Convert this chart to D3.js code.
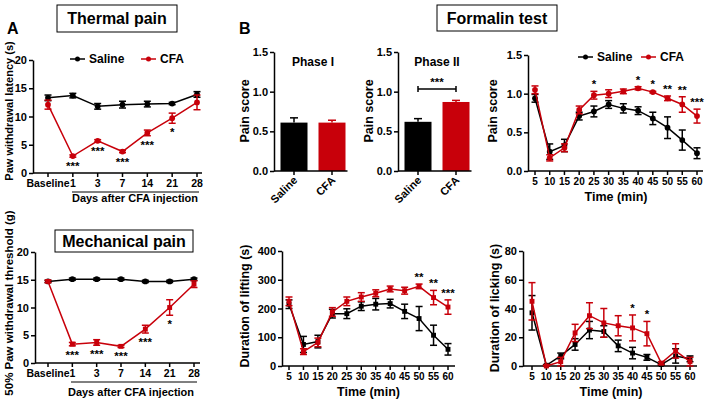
<!DOCTYPE html>
<html><head><meta charset="utf-8">
<script src="https://cdn.jsdelivr.net/npm/d3@7"></script>
<style>body{margin:0;background:#fff}svg text{font-family:"Liberation Sans",Arial,sans-serif;font-weight:bold}</style>
</head><body><svg id="c" width="708" height="402"></svg>
<script>
const RED = "#c8000a", BLACK = "#000";
// Panel A data
const dayCats = ["Baseline","1","3","7","14","21","28"];
const thermalSaline = [13.3,13.7,11.8,12.1,12.2,12.3,13.9];
const thermalSalineErr = [0.5,0.4,0.5,0.6,0.5,0.2,0.5];
const thermalCFA = [12.1,3.0,5.7,3.8,7.1,9.7,12.5];
const thermalCFAErr = [0.8,0.2,0.2,0.2,0.5,0.9,1.3];
const thermalStars = ["","***","***","***","***","*",""];
const mechSaline = [14.7,15.1,15.1,15.1,14.7,14.7,15.1];
const mechSalineErr = [0.2,0.2,0.2,0.2,0.2,0.2,0.2];
const mechCFA = [14.7,3.4,3.7,3.0,6.1,10.0,14.2];
const mechCFAErr = [0.2,0.3,0.5,0.2,0.7,1.4,0.6];
const mechStars = ["","***","***","***","***","*",""];
const yTicksA = [0,5,10,15,20];
// Panel B bars
const barCats = ["Saline","CFA"];
const phase1 = [0.61,0.61], phase1Err = [0.06,0.03];
const phase2 = [0.62,0.87], phase2Err = [0.04,0.02];
const yTicksScore = [0.0,0.5,1.0,1.5];
// Time course
const times = [5,10,15,20,25,30,35,40,45,50,55,60];
const scoreSaline = [0.94,0.25,0.33,0.71,0.77,0.86,0.81,0.78,0.68,0.56,0.40,0.23];
const scoreSalineErr = [0.05,0.10,0.08,0.05,0.07,0.05,0.06,0.05,0.08,0.14,0.13,0.07];
const scoreCFA = [1.05,0.17,0.30,0.79,0.98,1.00,1.03,1.07,1.02,0.94,0.86,0.71];
const scoreCFAErr = [0.05,0.04,0.05,0.05,0.05,0.05,0.03,0.02,0.01,0.03,0.10,0.09];
const scoreStars = ["","","","","*","","","*","*","**","**","***"];
const liftSaline = [215,75,85,182,182,208,215,217,190,165,107,58];
const liftSalineErr = [15,28,22,15,17,15,20,15,25,42,35,20];
const liftCFA = [225,50,82,188,225,240,253,268,262,277,238,205];
const liftCFAErr = [15,10,15,15,15,15,12,10,12,8,25,25];
const liftStars = ["","","","","","","","","","**","**","***"];
const yTicksLift = [0,100,200,300,400];
const lickSaline = [37,0.5,7,15,25,24,14,9,6,1,7,5];
const lickSalineErr = [12,0.5,2,4,6,4,4,4,2,0.5,5,2];
const lickCFA = [45,0,3,23,35,30,28,26.5,22.5,2,10.5,3];
const lickCFAErr = [13,0.5,3,6,9,10,7,9,8.5,1,5,3];
const lickStars = ["","","","","","","","*","*","","",""];
const yTicksLick = [0,20,40,60,80];

const svg = d3.select("#c");

function yAxis(y, x0, ticks, fmt) {
  const ax = d3.axisLeft(y).tickValues(ticks).tickSize(4).tickSizeOuter(0).tickFormat(fmt);
  const a = svg.append("g").attr("transform", `translate(${x0},0)`).call(ax);
  a.select(".domain").attr("stroke-width",1.5);
  a.selectAll(".tick line").attr("stroke-width",1.5);
  a.selectAll("text").attr("font-size",11).attr("dx",1);
  return a;
}
function xAxisLine(x0, x1, y0) {
  svg.append("line").attr("x1",x0).attr("x2",x1).attr("y1",y0).attr("y2",y0).attr("stroke","#000").attr("stroke-width",1.5);
}
function xTicks(xs, labels, y0, fs) {
  xs.forEach((x,i)=>{
    svg.append("line").attr("x1",x).attr("x2",x).attr("y1",y0).attr("y2",y0+4).attr("stroke","#000").attr("stroke-width",1.5);
    svg.append("text").attr("x",x).attr("y",y0+13.5).attr("text-anchor","middle").attr("font-size",fs).text(labels[i]);
  });
}
function series(xs, vals, errs, y, color, shape) {
  const line = d3.line().x((d,i)=>xs[i]).y(d=>y(d));
  svg.append("path").datum(vals).attr("d",line).attr("fill","none").attr("stroke",color).attr("stroke-width",1.5);
  vals.forEach((v,i)=>{
    const x = xs[i], yt = y(v+errs[i]), yb = y(Math.max(0,v-errs[i]));
    svg.append("line").attr("x1",x).attr("x2",x).attr("y1",yt).attr("y2",yb).attr("stroke",color).attr("stroke-width",1.5);
    [yt,yb].forEach(yy=>svg.append("line").attr("x1",x-3.5).attr("x2",x+3.5).attr("y1",yy).attr("y2",yy).attr("stroke",color).attr("stroke-width",1.5));
    const sym = d3.symbol().type(shape==="square"?d3.symbolSquare:d3.symbolCircle).size(shape==="square"?24:26);
    svg.append("path").attr("d",sym()).attr("transform",`translate(${x},${y(v)})`).attr("fill",color);
  });
}
function stars(xs, labels, vals, errs, y, below) {
  labels.forEach((s,i)=>{
    if(!s) return;
    const yy = below ? y(vals[i]-errs[i]) + 13 : y(vals[i]+errs[i]) - 3;
    svg.append("text").attr("x",xs[i]).attr("y",yy).attr("text-anchor","middle").attr("font-size",11.5).attr("font-weight","normal").text(s);
  });
}
function rotLabel(x, y, txt, fs) {
  svg.append("text").attr("transform",`translate(${x},${y}) rotate(-90)`).attr("text-anchor","middle").attr("font-size",fs).text(txt);
}
function boxTitle(x0,y0,x1,y1,txt,fs){
  svg.append("rect").attr("x",x0).attr("y",y0).attr("width",x1-x0).attr("height",y1-y0).attr("fill","#fff").attr("stroke","#000").attr("stroke-width",1);
  svg.append("text").attr("x",(x0+x1)/2).attr("y",(y0+y1)/2+5.5).attr("text-anchor","middle").attr("font-size",fs).text(txt);
}
function legend(x, y, color, txt){
  svg.append("line").attr("x1",x).attr("x2",x+15).attr("y1",y).attr("y2",y).attr("stroke",color).attr("stroke-width",1.5);
  svg.append("circle").attr("cx",x+7.5).attr("cy",y).attr("r",2.5).attr("fill",color);
  svg.append("text").attr("x",x+19).attr("y",y+4).attr("font-size",12).text(txt);
}

// ===== Panel A thermal =====
svg.append("text").attr("x",7).attr("y",34).attr("font-size",16).text("A");
boxTitle(57,5,177,32,"Thermal pain",16);
{
  const x = d3.scalePoint().domain(dayCats).range([48,197]);
  const y = d3.scaleLinear().domain([0,20]).range([173,60]);
  const xs = dayCats.map(d=>x(d));
  yAxis(y,33,yTicksA,d3.format("d"));
  xAxisLine(33,202,173);
  xTicks(xs,dayCats,173,10.5);
  series(xs,thermalSaline,thermalSalineErr,y,BLACK,"circle");
  series(xs,thermalCFA,thermalCFAErr,y,RED,"circle");
  stars(xs,thermalStars,thermalCFA,thermalCFAErr,y,true);
  legend(70,59,BLACK,"Saline");
  legend(141,59,RED,"CFA");
  rotLabel(13,111,"Paw withdrawal latency (s)",11);
  svg.append("line").attr("x1",72).attr("x2",199).attr("y1",192).attr("y2",192).attr("stroke","#000").attr("stroke-width",1);
  svg.append("text").attr("x",135).attr("y",202).attr("text-anchor","middle").attr("font-size",11).text("Days after CFA injection");
}
// ===== Panel A mechanical =====
{
  const x = d3.scalePoint().domain(dayCats).range([48,194]);
  const y = d3.scaleLinear().domain([0,20]).range([363,252]);
  const xs = dayCats.map(d=>x(d));
  yAxis(y,35,yTicksA,d3.format("d"));
  xAxisLine(35,200,363);
  xTicks(xs,dayCats,363,10.5);
  series(xs,mechSaline,mechSalineErr,y,BLACK,"circle");
  series(xs,mechCFA,mechCFAErr,y,RED,"square");
  stars(xs,mechStars,mechCFA,mechCFAErr,y,true);
  boxTitle(55,230,193,252,"Mechanical pain",16);
  rotLabel(13,303,"50% Paw withdrawal threshold (g)",11.5);
  svg.append("line").attr("x1",71).attr("x2",197).attr("y1",382).attr("y2",382).attr("stroke","#000").attr("stroke-width",1);
  svg.append("text").attr("x",131).attr("y",396).attr("text-anchor","middle").attr("font-size",11).text("Days after CFA injection");
}
// ===== Panel B =====
svg.append("text").attr("x",239).attr("y",34).attr("font-size",16).text("B");
boxTitle(437,5,557,31,"Formalin test",16);
function barChart(ax0, centers, vals, errs, title, bracket){
  const y = d3.scaleLinear().domain([0,1.5]).range([171,52]);
  yAxis(y,ax0,yTicksScore,d3.format(".1f"));
  const bw = 27;
  vals.forEach((v,i)=>{
    const c = centers[i], col = i===0?BLACK:RED;
    svg.append("line").attr("x1",c).attr("x2",c).attr("y1",y(v)).attr("y2",y(v+errs[i])).attr("stroke",col).attr("stroke-width",1.5);
    svg.append("line").attr("x1",c-4).attr("x2",c+4).attr("y1",y(v+errs[i])).attr("y2",y(v+errs[i])).attr("stroke",col).attr("stroke-width",1.5);
    svg.append("rect").attr("x",c-bw/2).attr("y",y(v)).attr("width",bw).attr("height",y(0)-y(v)).attr("fill",col);
    svg.append("line").attr("x1",c).attr("x2",c).attr("y1",171).attr("y2",175).attr("stroke","#000").attr("stroke-width",1.5);
    svg.append("text").attr("transform",`translate(${c+4},${181}) rotate(-45)`).attr("text-anchor","end").attr("font-size",11).text(barCats[i]);
  });
  xAxisLine(ax0, centers[1]+bw/2+2, 171);
  svg.append("text").attr("x",(centers[0]+centers[1])/2).attr("y",66).attr("text-anchor","middle").attr("font-size",12).text(title);
  rotLabel(ax0-25,111,"Pain score",12.5);
  if(bracket){
    const yb = 89;
    svg.append("line").attr("x1",centers[0]).attr("x2",centers[1]).attr("y1",yb).attr("y2",yb).attr("stroke","#000").attr("stroke-width",1.5);
    centers.forEach(c=>svg.append("line").attr("x1",c).attr("x2",c).attr("y1",yb-3).attr("y2",yb+3).attr("stroke","#000").attr("stroke-width",1.5));
    svg.append("text").attr("x",(centers[0]+centers[1])/2).attr("y",yb-3).attr("text-anchor","middle").attr("font-size",11.5).attr("font-weight","normal").text("***");
  }
}
barChart(274,[294,332],phase1,phase1Err,"Phase I",false);
barChart(398,[418,456],phase2,phase2Err,"Phase II",true);

function timeChart(ax0, xr, yr, dom, ticks, fmt, s, se, c, ce, st, shape, ylab, ylx, yly, axEnd){
  const x = d3.scaleLinear().domain([5,60]).range(xr);
  const y = d3.scaleLinear().domain(dom).range(yr);
  const xs = times.map(t=>x(t));
  yAxis(y,ax0,ticks,fmt);
  xAxisLine(ax0,axEnd,yr[0]);
  xTicks(xs,times.map(String),yr[0],10);
  series(xs,s,se,y,BLACK,shape);
  series(xs,c,ce,y,RED,shape);
  stars(xs,st,c,ce,y,false);
  rotLabel(ylx,yly,ylab,12.5);
  svg.append("text").attr("x",(xr[0]+xr[1])/2).attr("y",yr[0]+30).attr("text-anchor","middle").attr("font-size",12.5).text("Time (min)");
}
timeChart(528,[535,697],[171,55],[0,1.5],yTicksScore,d3.format(".1f"),scoreSaline,scoreSalineErr,scoreCFA,scoreCFAErr,scoreStars,"circle","Pain score",497,111,703);
legend(578,57,BLACK,"Saline");
legend(641,57,RED,"CFA");
timeChart(282,[289,448],[366,251],[0,400],yTicksLift,d3.format("d"),liftSaline,liftSalineErr,liftCFA,liftCFAErr,liftStars,"square","Duration of lifting (s)",249,306,455);
timeChart(523,[532,690],[366,251],[0,80],yTicksLick,d3.format("d"),lickSaline,lickSalineErr,lickCFA,lickCFAErr,lickStars,"square","Duration of licking (s)",499,308,697);
</script></body></html>
